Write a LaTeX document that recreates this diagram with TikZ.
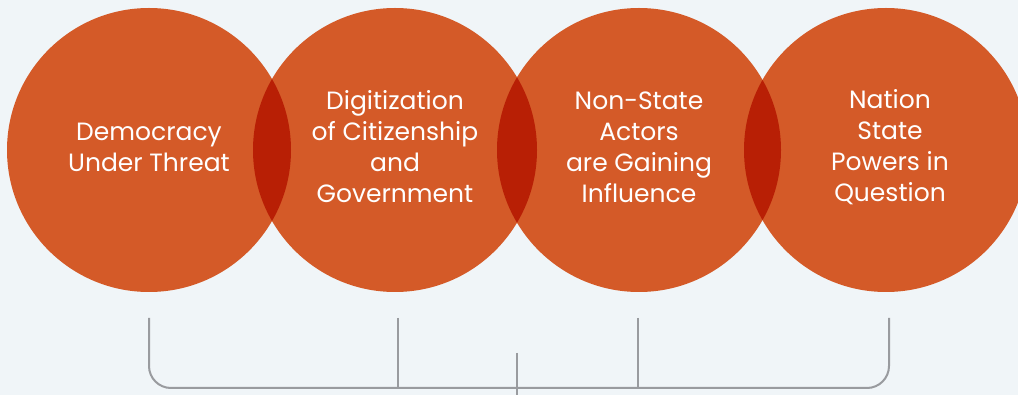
\documentclass[tikz,border=0pt]{standalone}
\usepackage{fontspec}
\setmainfont{Poppins}
\usetikzlibrary{positioning,calc}
\definecolor{bgpale}{HTML}{F0F5F8}
\definecolor{rust}{HTML}{D45A28}
\definecolor{lensred}{HTML}{B81F05}
\definecolor{brgray}{HTML}{999B9F}
\begin{document}
\begin{tikzpicture}[x=1pt,y=-1pt,
  font=\fontsize{25}{31}\selectfont,
  topic/.style={circle,fill=rust,minimum size=284pt,inner sep=0pt},
  caption/.style={text=white,align=center,yshift=3pt},
  brace/.style={draw=brgray,line width=2pt,rounded corners=22pt}]
% ---- canvas
\useasboundingbox (0,0) rectangle (1018,395);
\fill[bgpale] (0,0) rectangle (1018,395);
\clip (0,0) rectangle (1018,395);
% ---- circles
\node[topic] (dem) at (149,150) {};
\node[topic] (dig) at (395,150) {};
\node[topic] (nsa) at (639,150) {};
\node[topic] (nat) at (886,150) {};
% ---- overlaps
\begin{scope}
  \clip (dem.center) circle (142);
  \fill[lensred] (dig.center) circle (142);
\end{scope}
\begin{scope}
  \clip (dig.center) circle (142);
  \fill[lensred] (nsa.center) circle (142);
\end{scope}
\begin{scope}
  \clip (nsa.center) circle (142);
  \fill[lensred] (nat.center) circle (142);
\end{scope}
% ---- labels
\node[caption] (demtxt) at (dem.center) {Democracy\\ Under Threat};
\node[caption] (digtxt) at (dig.center) {Digitization\\ of Citizenship\\ and\\ Government};
\node[caption] (nsatxt) at (nsa.center) {Non-State\\ Actors\\ are Gaining\\ Influence};
\node[caption] (nattxt) at ($(nat.center)+(4,0)$) {Nation\\ State\\ Powers in\\ Question};
% ---- bracket
\coordinate (t1) at ($(dem.center)+(0,168)$);
\coordinate (t2) at ($(dig.center)+(3,168)$);
\coordinate (t3) at ($(nsa.center)+(-1,168)$);
\coordinate (t4) at ($(nat.center)+(3,168)$);
\coordinate (stem) at (517,353);
\coordinate (stemend) at (517,400);
\draw[brace] (t1) -- ($(t1)+(0,70)$) -- ($(t4)+(0,70)$) -- (t4);
\draw[brace] (t2) -- ($(t2)+(0,70)$);
\draw[brace] (t3) -- ($(t3)+(0,70)$);
\draw[brace] (stem) -- (stemend);
\end{tikzpicture}
\end{document}
